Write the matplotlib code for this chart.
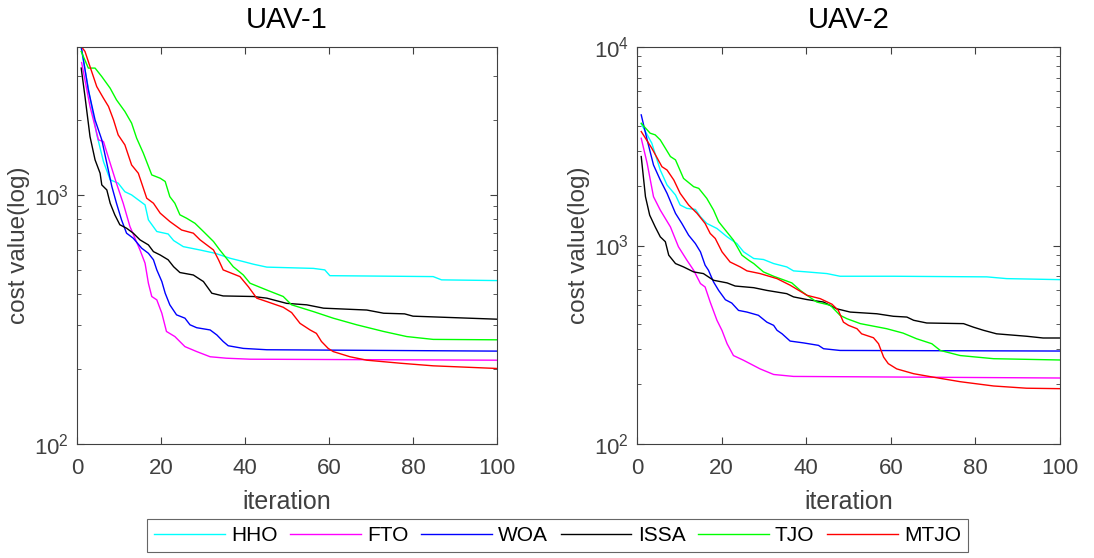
import matplotlib
matplotlib.use("Agg")
import matplotlib.pyplot as plt
from matplotlib.ticker import FixedLocator, FixedFormatter, LogLocator, NullFormatter

plt.rcParams['font.family'] = ['Liberation Sans', 'DejaVu Sans']

names = ["HHO", "FTO", "WOA", "ISSA", "TJO", "MTJO"]
colors = ["#00ffff", "#ff00ff", "#0000ff", "#000000", "#00ff00", "#ff0000"]

# ---------------- UAV-1 ----------------
u1_hho_x = [1, 3, 4.7, 6.3, 7.9, 9.8, 11.4, 13, 16.2, 17, 19, 21.7, 23, 25.3, 29.3, 32.9, 36.4, 39.6, 42, 45.2, 56.3, 59, 60.2, 84.8, 86.8, 100]
u1_hho_y = [3880, 2500, 1750, 1361, 1150, 1115, 1030, 1000, 912, 794, 713, 697, 656, 620, 601, 583, 557, 540, 527, 513, 507, 500, 474, 470, 456, 453]

u1_fto_x = [1.1, 3.1, 5.1, 6.3, 7.9, 9.4, 11, 12.6, 15, 16.2, 17, 17.8, 19, 20.2, 21.3, 23.3, 25.7, 28.5, 31.7, 35.6, 41.2, 100]
u1_fto_y = [3400, 2265, 1664, 1638, 1340, 1113, 926, 747, 601, 532, 442, 391, 379, 335, 283, 270, 246, 235, 224, 221, 219, 217]

u1_woa_x = [1, 2.7, 4.3, 5.9, 7.1, 8.3, 9.4, 10.6, 11.8, 13.4, 15.4, 17, 18.2, 19, 20.2, 21, 22.1, 23.7, 25.7, 26.9, 28.5, 31.7, 33.3, 34.8, 36, 39.6, 45.2, 100]
u1_woa_y = [3950, 2640, 2000, 1664, 1340, 1080, 926, 794, 702, 670, 611, 583, 549, 500, 449, 403, 362, 330, 320, 301, 293, 287, 274, 258, 248, 242, 239, 236]

u1_issa_x = [1, 1.9, 3.1, 4.3, 5.5, 5.9, 7.1, 7.9, 9, 10.2, 11.8, 13.4, 15, 17, 18.2, 19.8, 21.7, 23, 24.5, 27.7, 29.3, 30.1, 32.1, 34.8, 42, 45.2, 49.9, 54.7, 58.7, 69, 73, 78, 80, 100]
u1_issa_y = [3230, 2483, 1714, 1383, 1222, 1097, 1047, 926, 832, 759, 735, 702, 660, 630, 592, 574, 549, 515, 488, 477, 458, 449, 403, 393, 391, 385, 367, 362, 351, 345, 335, 333, 326, 317]

u1_tjo_x = [1, 2.7, 4.3, 5.9, 7.9, 9.4, 11.4, 13, 14.2, 15.8, 17.8, 19.8, 21, 22.1, 23.3, 24.5, 26.1, 28.1, 30.1, 32.5, 34, 37.2, 39.6, 41.2, 45.2, 49.1, 51.1, 56.3, 61, 66.6, 73, 78.5, 84.8, 100]
u1_tjo_y = [3767, 3230, 3230, 2986, 2681, 2408, 2163, 1942, 1690, 1470, 1203, 1167, 1132, 984, 926, 832, 806, 769, 713, 650, 601, 515, 477, 442, 415, 391, 362, 340, 320, 301, 283, 270, 263, 262]

u1_mtjo_x = [1, 1.9, 3.1, 4.7, 6.3, 7.5, 8.7, 9.8, 11.4, 13, 14.6, 16.6, 18.2, 19.8, 22.1, 24.9, 27.7, 29.3, 32.5, 33.7, 34.8, 38.8, 40.8, 42.8, 45.2, 49.1, 51.1, 53.1, 55.5, 57, 58.2, 59.8, 61, 65, 69, 77, 84.8, 100]
u1_mtjo_y = [3950, 3767, 3273, 2722, 2445, 2265, 2000, 1742, 1588, 1319, 1222, 970, 926, 845, 782, 723, 702, 660, 601, 549, 500, 470, 428, 385, 373, 354, 337, 305, 287, 278, 258, 242, 235, 224, 217, 211, 206, 201]

# ---------------- UAV-2 ----------------
u2_hho_x = [1, 3.5, 5.5, 7.1, 9.1, 10.2, 11.8, 13.8, 15, 16.5, 18.9, 21.3, 23.6, 25.2, 27.6, 29.9, 32.3, 35.4, 37, 40.2, 44.9, 48, 60.6, 82.7, 87.4, 100]
u2_hho_y = [4100, 3275, 2400, 2018, 1796, 1600, 1538, 1520, 1396, 1292, 1218, 1106, 1023, 929, 860, 850, 811, 780, 745, 736, 722, 700, 700, 695, 681, 673]

u2_fto_x = [1, 2.4, 3.9, 5.5, 7.9, 9.8, 11.8, 13.4, 15, 16.1, 17.3, 18.9, 20.1, 21.3, 22.8, 25.2, 29.1, 32.3, 37, 100]
u2_fto_y = [3468, 2594, 1762, 1508, 1241, 985, 843, 750, 643, 618, 519, 420, 373, 320, 279, 264, 239, 224, 219, 215]

u2_woa_x = [1, 2.4, 3.9, 5.5, 7.1, 9.1, 10.6, 12.2, 13.8, 15, 16.1, 16.9, 18.1, 19.3, 20.9, 22.4, 24, 26, 28.7, 30.7, 32.3, 33.1, 34.3, 36.2, 39.4, 42.9, 44.1, 48, 100]
u2_woa_y = [4550, 3404, 2545, 2138, 1832, 1452, 1292, 1127, 1023, 929, 796, 750, 655, 594, 533, 513, 471, 462, 445, 411, 396, 374, 359, 330, 323, 314, 302, 296, 294]

u2_issa_x = [1, 2, 3, 4.3, 5.5, 6.7, 7.5, 9.1, 11, 13.4, 15.7, 18.1, 21.3, 23.2, 27.6, 30.7, 35.4, 37, 40.2, 44.1, 47.2, 50.4, 56.7, 60.6, 63.8, 65.4, 68.5, 77.2, 79.5, 81.9, 85, 92.1, 96, 100]
u2_issa_y = [2806, 1762, 1422, 1241, 1106, 1045, 894, 811, 780, 736, 722, 668, 648, 625, 613, 594, 572, 551, 534, 519, 480, 462, 453, 440, 436, 420, 407, 404, 388, 374, 359, 349, 342, 342]

u2_tjo_x = [1, 3.1, 4.3, 5.5, 7.9, 9.1, 11, 13.4, 14.6, 16.5, 18.1, 19.3, 20.9, 22.8, 24.8, 26.4, 27.6, 29.9, 32.3, 36.6, 38.6, 40.2, 42.5, 45.7, 48, 49.6, 52.8, 59, 62.9, 66.1, 69.7, 71.7, 76.4, 84.3, 100]
u2_tjo_y = [4130, 3680, 3609, 3404, 2806, 2700, 2178, 1978, 1940, 1727, 1508, 1318, 1195, 1064, 894, 843, 811, 736, 700, 648, 594, 561, 519, 500, 445, 428, 404, 381, 362, 339, 320, 296, 279, 269, 265]

u2_mtjo_x = [1, 3.5, 5.9, 7.1, 8.7, 10.2, 12.2, 14.2, 16.1, 17.3, 18.5, 20.1, 22, 24.4, 26, 29.1, 33.1, 36.2, 40.2, 43.3, 46.1, 47.6, 48.8, 50, 52, 53.1, 55.9, 57.1, 58.3, 59.4, 61.4, 65.4, 70.1, 76.4, 84.3, 92.1, 100]
u2_mtjo_y = [3750, 3090, 2494, 2400, 2138, 1832, 1600, 1452, 1292, 1150, 1085, 929, 826, 780, 745, 722, 681, 631, 561, 540, 506, 471, 411, 396, 381, 359, 343, 320, 274, 254, 239, 226, 217, 206, 196, 191, 190]

panels = [
    ("UAV-1", (100, 3925),
     [(u1_hho_x, u1_hho_y), (u1_fto_x, u1_fto_y), (u1_woa_x, u1_woa_y),
      (u1_issa_x, u1_issa_y), (u1_tjo_x, u1_tjo_y), (u1_mtjo_x, u1_mtjo_y)],
     [100, 1000], ["$\\mathregular{10^{2}}$", "$\\mathregular{10^{3}}$"]),
    ("UAV-2", (100, 10000),
     [(u2_hho_x, u2_hho_y), (u2_fto_x, u2_fto_y), (u2_woa_x, u2_woa_y),
      (u2_issa_x, u2_issa_y), (u2_tjo_x, u2_tjo_y), (u2_mtjo_x, u2_mtjo_y)],
     [100, 1000, 10000], ["$\\mathregular{10^{2}}$", "$\\mathregular{10^{3}}$", "$\\mathregular{10^{4}}$"]),
]

W, H = 1094, 558
fig = plt.figure(figsize=(W / 100, H / 100), dpi=100)
axes_px = [(77, 47, 497, 444), (637, 47, 1060, 444)]
tick_col = "#404040"
handles = None
for (title, ylim, series, yt, ytl), (x0, y0, x1, y1) in zip(panels, axes_px):
    ax = fig.add_axes([x0 / W, 1 - y1 / H, (x1 - x0) / W, (y1 - y0) / H])
    lines = []
    for (xs, ys), c, n in zip(series, colors, names):
        ln, = ax.plot(xs, ys, color=c, lw=1.0, label=n)
        lines.append(ln)
    handles = lines
    ax.set_yscale("log")
    ax.set_xlim(0, 100)
    ax.set_ylim(*ylim)
    ax.set_xticks([0, 20, 40, 60, 80, 100])
    ax.yaxis.set_major_locator(FixedLocator(yt))
    ax.yaxis.set_major_formatter(FixedFormatter(ytl))
    ax.yaxis.set_minor_locator(LogLocator(base=10, subs=range(2, 10)))
    ax.yaxis.set_minor_formatter(NullFormatter())
    ax.tick_params(which="both", direction="in", top=True, right=True,
                   colors=tick_col, labelcolor=tick_col, labelsize=16)
    ax.tick_params(which="major", length=5, width=0.8, pad=6)
    ax.tick_params(axis="x", which="major", pad=10)
    ax.tick_params(which="minor", length=3, width=0.6)
    for sp in ax.spines.values():
        sp.set_color(tick_col)
        sp.set_linewidth(0.8)
    ax.set_title(title, fontsize=21, color="black", pad=14)
    ax.set_xlabel("iteration", fontsize=18, color=tick_col, labelpad=8)
    ax.set_ylabel("cost value(log)", fontsize=17.5, color=tick_col)
    ax.yaxis.set_label_coords(-0.112, 0.5)

leg = fig.legend(handles, names, loc="center", ncol=6,
                 bbox_to_anchor=(557.5 / W, 1 - 535.5 / H),
                 fontsize=15, frameon=True, fancybox=False,
                 handlelength=3.4, handletextpad=0.3, columnspacing=0.6,
                 borderpad=0.35, borderaxespad=0)
leg.get_frame().set_edgecolor("#404040")
leg.get_frame().set_linewidth(0.8)

fig.savefig("out.png", dpi=100)
